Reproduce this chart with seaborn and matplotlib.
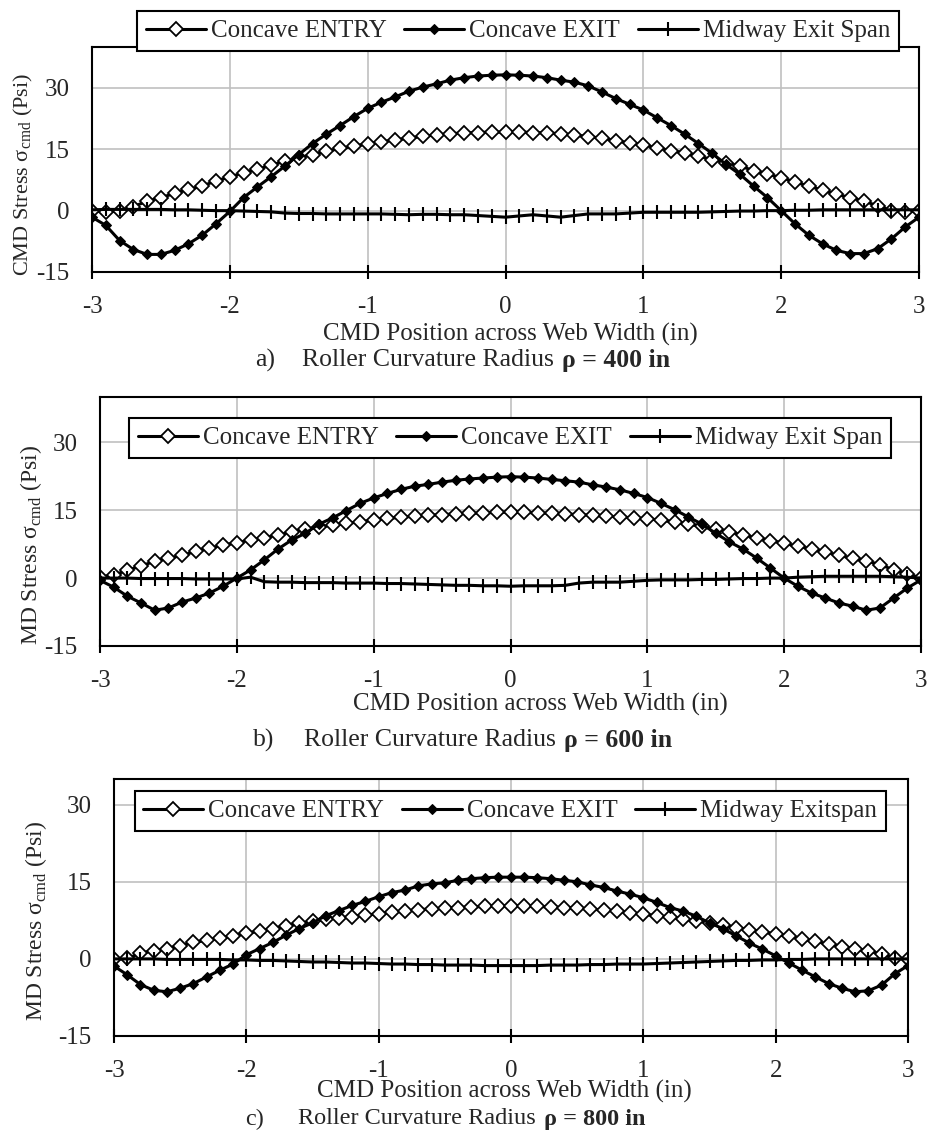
import matplotlib
matplotlib.use('Agg')
import matplotlib.pyplot as plt
import seaborn as sns
import numpy as np

# CMD positions, -3 .. 3 in steps of 0.1
x_pos = np.round(np.arange(-30, 31) / 10, 1)

# a) rho = 400 in
entry_400 = [0.0, -0.4, 0.0, 1.0, 2.3, 3.2, 4.2, 5.2, 6.0, 7.3,
             8.2, 9.3, 10.1, 11.1, 12.1, 12.9, 13.7, 14.5, 15.2, 15.7,
             16.4, 16.8, 17.3, 17.7, 18.2, 18.5, 18.8, 19.0, 19.1, 19.2,
             19.2,
             19.2, 19.1, 19.0, 18.8, 18.5, 18.1, 17.7, 17.1, 16.5, 16.1,
             15.3, 14.7, 14.1, 13.3, 12.5, 11.7, 10.9, 9.8, 8.9, 8.1,
             7.0, 6.0, 5.0, 4.0, 3.2, 2.3, 1.2, 0.0, -0.4, 0.0]
exit_400 = [-1.6, -3.6, -7.3, -9.5, -10.7, -10.7, -9.7, -8.1, -6.0, -3.2,
            -0.2, 3.2, 5.8, 8.3, 10.9, 13.7, 16.4, 18.7, 20.8, 23.0,
            25.0, 26.5, 27.8, 29.2, 30.2, 31.0, 31.9, 32.5, 32.9, 33.1,
            33.2,
            33.1, 32.9, 32.5, 31.9, 31.4, 30.5, 29.0, 27.4, 26.0, 24.6,
            22.7, 20.8, 18.7, 16.4, 14.0, 11.3, 8.9, 6.0, 3.2, 0.0,
            -3.2, -6.0, -8.1, -9.7, -10.5, -10.5, -9.3, -6.9, -4.0, -1.6]
mid_400 = [0.2, 0.3, 0.3, 0.3, 0.3, 0.3, 0.2, 0.2, 0.1, 0.0,
           0.0, -0.1, -0.2, -0.3, -0.6, -0.7, -0.7, -0.8, -0.8, -0.8,
           -0.8, -0.8, -0.9, -1.0, -0.9, -0.9, -1.0, -1.0, -1.2, -1.4,
           -1.6,
           -1.3, -1.0, -1.3, -1.6, -1.2, -0.8, -0.8, -0.8, -0.6, -0.4,
           -0.4, -0.4, -0.4, -0.4, -0.3, -0.2, -0.1, -0.1, 0.0, 0.0,
           0.1, 0.1, 0.2, 0.2, 0.2, 0.2, 0.2, 0.2, 0.2, 0.2]

# b) rho = 600 in
entry_600 = [0.2, 0.7, 1.7, 2.7, 3.7, 4.4, 5.0, 5.9, 6.6, 7.3,
             7.8, 8.4, 8.9, 9.5, 10.2, 10.8, 11.3, 11.7, 12.1, 12.4,
             12.8, 13.2, 13.4, 13.7, 13.9, 14.0, 14.2, 14.3, 14.4, 14.5,
             14.6,
             14.5, 14.4, 14.3, 14.2, 14.0, 13.9, 13.7, 13.5, 13.3, 13.1,
             12.8, 12.4, 11.9, 11.4, 10.8, 10.2, 9.5, 8.9, 8.3, 7.7,
             7.0, 6.5, 5.8, 5.0, 4.4, 3.8, 3.0, 1.8, 1.0, 0.0]
exit_600 = [-0.5, -2.0, -4.0, -5.5, -7.1, -6.6, -5.3, -4.4, -3.3, -1.8,
            0.0, 1.8, 4.0, 6.4, 8.4, 9.9, 11.9, 13.3, 14.9, 16.5,
            17.7, 18.7, 19.6, 20.3, 20.7, 21.2, 21.6, 21.9, 22.1, 22.3,
            22.4,
            22.3, 22.1, 21.8, 21.5, 21.2, 20.6, 20.1, 19.5, 18.7, 17.8,
            16.5, 15.1, 13.5, 11.9, 9.9, 8.0, 6.4, 4.4, 2.2, 0.0,
            -1.8, -3.3, -4.4, -5.5, -6.2, -7.1, -6.6, -4.4, -2.2, -0.4]
mid_600 = [0.0, 0.0, 0.0, -0.1, -0.1, -0.1, -0.1, -0.2, -0.2, -0.2,
           -0.2, 0.2, -0.8, -0.9, -0.9, -1.0, -1.0, -1.0, -1.1, -1.1,
           -1.1, -1.2, -1.2, -1.3, -1.4, -1.5, -1.6, -1.6, -1.7, -1.7,
           -1.8,
           -1.7, -1.7, -1.7, -1.6, -1.1, -0.9, -0.9, -0.9, -0.7, -0.5,
           -0.4, -0.4, -0.4, -0.3, -0.3, -0.2, -0.1, -0.1, 0.0, 0.0,
           0.2, 0.3, 0.4, 0.4, 0.4, 0.4, 0.4, 0.3, 0.2, 0.0]

# c) rho = 800 in
entry_800 = [0.0, 0.1, 1.1, 1.6, 2.0, 2.6, 3.2, 3.6, 4.0, 4.5,
             5.0, 5.4, 5.9, 6.4, 6.9, 7.3, 7.7, 8.0, 8.2, 8.6,
             8.7, 9.1, 9.3, 9.6, 9.7, 9.9, 10.0, 10.1, 10.2, 10.3,
             10.3,
             10.3, 10.2, 10.1, 10.0, 9.9, 9.7, 9.5, 9.3, 9.0, 8.7,
             8.4, 8.1, 7.8, 7.4, 7.0, 6.6, 6.1, 5.7, 5.3, 4.8,
             4.4, 3.9, 3.4, 2.9, 2.4, 2.0, 1.5, 1.0, 0.2, 0.0]
exit_800 = [-1.4, -3.1, -5.0, -6.1, -6.4, -5.7, -4.8, -3.5, -2.2, -1.0,
            0.8, 2.0, 3.2, 4.6, 5.9, 7.0, 8.4, 9.4, 10.4, 11.2,
            12.1, 12.9, 13.4, 14.2, 14.6, 14.8, 15.3, 15.6, 15.8, 15.9,
            15.9,
            15.9, 15.8, 15.6, 15.3, 15.0, 14.4, 13.9, 13.2, 12.6, 11.9,
            11.0, 10.0, 9.3, 8.3, 7.0, 5.9, 4.5, 3.1, 1.9, 0.6,
            -0.8, -2.2, -3.5, -4.8, -5.7, -6.4, -6.2, -5.1, -2.9, -1.3]
mid_800 = [0.0, 0.0, 0.0, 0.0, -0.1, -0.1, -0.1, -0.1, -0.1, -0.2,
           -0.2, -0.3, -0.3, -0.4, -0.5, -0.6, -0.6, -0.7, -0.8, -0.8,
           -0.9, -1.0, -1.0, -1.1, -1.1, -1.2, -1.2, -1.2, -1.3, -1.3,
           -1.3,
           -1.3, -1.3, -1.2, -1.2, -1.2, -1.1, -1.1, -1.0, -1.0, -1.0,
           -0.9, -0.8, -0.7, -0.6, -0.5, -0.4, -0.3, -0.3, -0.2, -0.2,
           -0.1, -0.1, 0.0, 0.0, 0.0, 0.0, 0.0, 0.0, 0.0, 0.0]

x_ticks = [-3, -2, -1, 0, 1, 2, 3]
y_ticks = [-15, 0, 15, 30]

sns.set_theme(style='white')
plt.rcParams['font.family'] = ['Liberation Serif', 'DejaVu Serif']
plt.rcParams['mathtext.fontset'] = 'custom'
plt.rcParams['mathtext.rm'] = 'Liberation Serif'

FS = 18
W, H = 933, 1134
fig = plt.figure(figsize=(W / 100, H / 100), dpi=100)
renderer = fig.canvas.get_renderer()


def fx(px):
    return px / W


def fy(py):
    return 1 - py / H


panels = [
    dict(box=(92, 47, 919, 272), ylim=(-15, 40), data=(entry_400, exit_400, mid_400),
         mid_name='Midway Exit Span', ylabel='CMD Stress σ$_{\\mathregular{cmd}}$ (Psi)',
         ylab=(23, 174, 16), xlab_pos=(510, 334), legend=(518, 31),
         cap=('a)', '400', 255, 302, 360, 18.5)),
    dict(box=(100, 397, 921, 646), ylim=(-15, 40), data=(entry_600, exit_600, mid_600),
         mid_name='Midway Exit Span', ylabel='MD Stress σ$_{\\mathregular{cmd}}$ (Psi)',
         ylab=(31, 545, 17), xlab_pos=(540, 704), legend=(510, 438),
         cap=('b)', '600', 253, 304, 740, 18.5)),
    dict(box=(114, 779, 908, 1036), ylim=(-15, 35), data=(entry_800, exit_800, mid_800),
         mid_name='Midway Exitspan', ylabel='MD Stress σ$_{\\mathregular{cmd}}$ (Psi)',
         ylab=(36, 921, 17), xlab_pos=(504, 1091), legend=(510, 811),
         cap=('c)', '800', 245, 298, 1119, 17.5)),
]

for p in panels:
    x0, y0, x1, y1 = p['box']
    ax = fig.add_axes([fx(x0), fy(y1), (x1 - x0) / W, (y1 - y0) / H])
    entry, exit_, mid = p['data']

    sns.lineplot(x=x_pos, y=entry, ax=ax, color='black', lw=2.2, marker='D',
                 markersize=7.5, markerfacecolor='white', markeredgecolor='black',
                 markeredgewidth=1.3, label='Concave ENTRY')
    sns.lineplot(x=x_pos, y=exit_, ax=ax, color='black', lw=2.2, marker='D',
                 markersize=5.5, markerfacecolor='black', markeredgecolor='black',
                 label='Concave EXIT')
    sns.lineplot(x=x_pos, y=mid, ax=ax, color='black', lw=2.2, marker='|',
                 markersize=10, markeredgewidth=1.5, markeredgecolor='black',
                 label=p['mid_name'])

    ax.set_xlim(-3, 3)
    ax.set_ylim(*p['ylim'])
    ax.set_xticks(x_ticks)
    ax.set_yticks(y_ticks)
    ax.set_xticklabels([str(v) for v in x_ticks])
    ax.set_yticklabels([str(v) for v in y_ticks])
    ax.set_xlabel('')
    ax.set_ylabel('')
    ax.grid(True, color='#c0c0c0', lw=1.2)
    ax.set_axisbelow(True)
    for s in ax.spines.values():
        s.set_color('black')
        s.set_linewidth(1.5)
    ax.tick_params(axis='x', direction='inout', length=10, width=1.5,
                   color='black', pad=12, labelsize=FS, bottom=True)
    ax.tick_params(axis='y', length=0, pad=16, labelsize=FS)

    leg = ax.legend(loc='center', bbox_to_anchor=(fx(p['legend'][0]), fy(p['legend'][1])),
                    bbox_transform=fig.transFigure, ncol=3, fontsize=FS,
                    frameon=True, fancybox=False, framealpha=1, edgecolor='black',
                    handlelength=2.4, handletextpad=0.2, columnspacing=0.7,
                    borderpad=0.35, borderaxespad=0)
    leg.get_frame().set_linewidth(1.5)
    leg.set_zorder(10)

    lx, ly, lfs = p['ylab']
    fig.text(fx(lx), fy(ly), p['ylabel'], rotation=90, ha='center', va='center',
             fontsize=lfs)
    fig.text(fx(p['xlab_pos'][0]), fy(p['xlab_pos'][1]),
             'CMD Position across Web Width (in)', ha='center', va='center', fontsize=FS)

    # caption: tag, normal part, then bold part right after it
    tag, rho, xt, xr, yc, cfs = p['cap']
    fig.text(fx(xt), fy(yc), tag, ha='left', va='center', fontsize=cfs)
    t = fig.text(fx(xr), fy(yc), 'Roller Curvature Radius', ha='left', va='center',
                 fontsize=cfs)
    x_end = t.get_window_extent(renderer=renderer).x1 + 8
    fig.text(x_end / W, fy(yc), 'ρ = ' + rho + ' in', ha='left', va='center',
             fontsize=cfs, fontweight='bold')

fig.savefig('out.png', dpi=100)
